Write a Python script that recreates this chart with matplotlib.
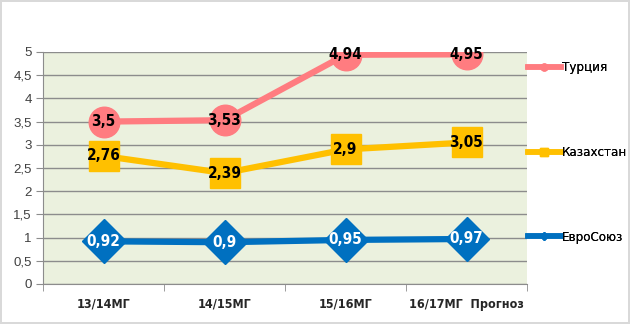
import matplotlib.pyplot as plt
from matplotlib.lines import Line2D
from matplotlib.ticker import FixedLocator

plt.rcParams['font.family'] = ['DejaVu Sans']
plt.rcParams['font.stretch'] = 'condensed'

categories = ["13/14МГ", "14/15МГ", "15/16МГ", "16/17МГ  Прогноз"]
turkey = [3.5, 3.53, 4.94, 4.95]
kazakhstan = [2.76, 2.39, 2.9, 3.05]
eu = [0.92, 0.9, 0.95, 0.97]
series_names = ["Турция", "Казахстан", "ЕвроСоюз"]
yticks = [0, 0.5, 1, 1.5, 2, 2.5, 3, 3.5, 4, 4.5, 5]

pink = "#FF7C80"
yellow = "#FFC000"
blue = "#0070C0"

fig = plt.figure(figsize=(6.3, 3.24), dpi=100)
fig.patch.set_edgecolor("#D9D9D9")
fig.patch.set_linewidth(1.5)
ax = fig.add_axes([43 / 630, 40 / 324, 484 / 630, 232 / 324])
ax.set_facecolor("#EBF1DE")

x = list(range(len(categories)))
ax.plot(x, turkey, color=pink, lw=4.5, marker="o", ms=22, mec=pink, zorder=3)
ax.plot(x, kazakhstan, color=yellow, lw=4.5, marker="s", ms=22, mec=yellow, zorder=3)
ax.plot(x, eu, color=blue, lw=4.5, marker="D", ms=22, mec=blue, zorder=3)

def fmt(v):
    return ("%g" % v).replace(".", ",")

label_font = dict(ha="center", va="center", fontsize=11, fontweight="bold", zorder=4)
for xi, v in zip(x, turkey):
    ax.text(xi, v, fmt(v), color="black", **label_font)
for xi, v in zip(x, kazakhstan):
    ax.text(xi, v, fmt(v), color="black", **label_font)
for xi, v in zip(x, eu):
    ax.text(xi, v, fmt(v), color="white", **label_font)

ax.set_xlim(-0.5, len(categories) - 0.5)
ax.set_ylim(0, 5)
ax.set_yticks(yticks)
ax.set_yticklabels([fmt(t) for t in yticks], fontsize=9.5, color="#404040",
                   family=['Liberation Sans', 'DejaVu Sans'])
ax.yaxis.grid(True, color="#8C8C8C", lw=1)
ax.set_axisbelow(True)
ax.set_xticks(x)
ax.set_xticklabels(categories, fontsize=9, fontweight="bold", color="#262626")
ax.xaxis.set_minor_locator(FixedLocator([-0.5, 0.5, 1.5, 2.5, 3.5]))
ax.tick_params(axis="x", which="major", length=0, pad=10)
ax.tick_params(axis="x", which="minor", length=5, color="#8C8C8C")
ax.tick_params(axis="y", length=5, color="#8C8C8C", pad=3)
for s in ["top", "right"]:
    ax.spines[s].set_visible(False)
ax.spines["left"].set_color("#8C8C8C")
ax.spines["bottom"].set_color("#8C8C8C")

handles = [
    Line2D([], [], color=pink, lw=4, marker="o", ms=5),
    Line2D([], [], color=yellow, lw=4, marker="s", ms=6),
    Line2D([], [], color=blue, lw=4, marker="D", ms=4),
]
for h, name, y in zip(handles, series_names, [68, 153, 237]):
    leg = fig.legend([h], [name], loc="center left", bbox_to_anchor=(516 / 630, 1 - y / 324),
                     frameon=False, handlelength=2.5, handletextpad=0.1,
                     prop={'family': 'DejaVu Sans', 'stretch': 'condensed', 'size': 9.5})
    fig.add_artist(leg)

fig.savefig("out.png", dpi=100)
